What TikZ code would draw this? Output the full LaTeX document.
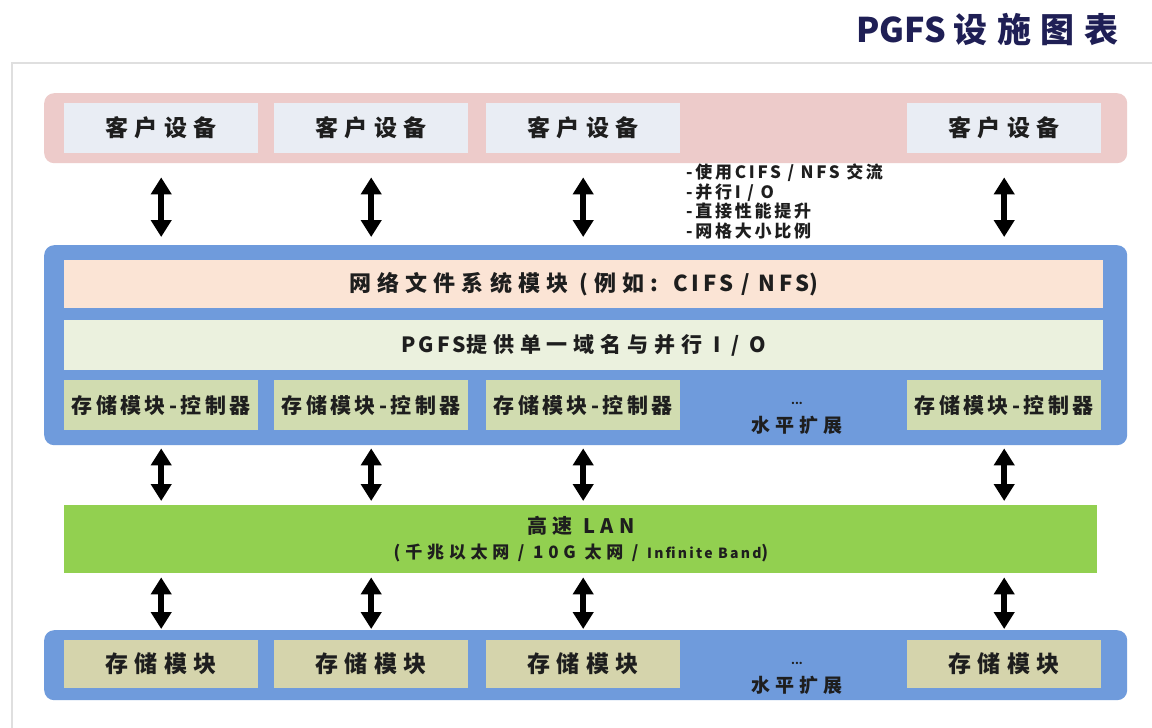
\documentclass[tikz,border=0pt]{standalone}
\usepackage{fontspec}
\setmainfont{Noto Sans CJK SC}
\newfontfamily\wide{Noto Sans CJK SC}[LetterSpace=28]
\newfontfamily\midsp{Noto Sans CJK SC}[LetterSpace=16]
\usetikzlibrary{arrows.meta}
\definecolor{pinkband}{HTML}{EDCBCA}
\definecolor{clientbox}{HTML}{E9EDF4}
\definecolor{blueband}{HTML}{6F9BDC}
\definecolor{peach}{HTML}{FBE4D5}
\definecolor{palegreen}{HTML}{EBF1DE}
\definecolor{ctlgreen}{HTML}{D1DCB0}
\definecolor{langreen}{HTML}{92D050}
\definecolor{storebox}{HTML}{D5D4AC}
\definecolor{navy}{HTML}{1F1F55}
\definecolor{ink}{HTML}{1E1E1E}
\tikzset{
  band/.style={anchor=north west, inner sep=0pt, rounded corners=10pt, draw=none},
  strip/.style={anchor=north west, inner sep=0pt, draw=none, text=ink},
  cbox/.style={anchor=north west, inner sep=0pt, minimum width=194pt, minimum height=50pt, fill=clientbox, text=ink, font=\wide\bfseries\fontsize{23}{26}\selectfont},
  ctl/.style={anchor=north west, inner sep=0pt, minimum width=194pt, minimum height=50pt, fill=ctlgreen, text=ink, font=\midsp\bfseries\fontsize{21}{22}\selectfont},
  sbox/.style={anchor=north west, inner sep=0pt, minimum width=194pt, minimum height=48pt, fill=storebox, text=ink, font=\wide\bfseries\fontsize{23}{26}\selectfont},
  dbl/.style={line width=6.5pt, black, {Triangle[width=20pt,length=17pt]}-{Triangle[width=20pt,length=17pt]}},
  scalenote/.style={text=ink, inner sep=0pt, font=\wide\bfseries\fontsize{19}{22}\selectfont},
  dots/.style={text=ink, inner sep=0pt, font=\bfseries\fontsize{11}{12}\selectfont},
}
\begin{document}
\begin{tikzpicture}[x=1pt,y=-1pt]
\useasboundingbox (0,0) rectangle (1152,728);
\fill[white] (0,0) rectangle (1152,728);
% panel
\draw[gray!25, line width=2pt, fill=white] (12,63) rectangle (1160,740);
% title
\node (title) [anchor=east, text=navy, font=\bfseries\fontsize{34}{38}\selectfont] at (1122,30) {PGFS\hspace{8pt}{\wide 设施图表}};
% clients band
\node (clients) [band, fill=pinkband, minimum width=1083pt, minimum height=70pt] at (44,93) {};
\node (c1) [cbox] at (64,103) {客户设备};
\node (c2) [cbox] at (274,103) {客户设备};
\node (c3) [cbox] at (486,103) {客户设备};
\node (c4) [cbox] at (907,103) {客户设备};
% notes
\node (notes) [anchor=north west, align=left, inner sep=0pt, text=ink, font=\midsp\bfseries\fontsize{17}{19.5}\selectfont] at (686,164)
  {-使用CIFS / NFS 交流\\-并行I / O\\-直接性能提升\\-网格大小比例};
% pgfs band
\node (pgfs) [band, fill=blueband, minimum width=1083pt, minimum height=200pt] at (44,245) {};
\node (nfs) [strip, fill=peach, minimum width=1039pt, minimum height=48pt, font=\wide\bfseries\fontsize{22}{24}\selectfont] at (64,260) {网络文件系统模块 (例如: {\midsp CIFS / NFS})};
\node (single) [strip, fill=palegreen, minimum width=1039pt, minimum height=50pt, font=\wide\bfseries\fontsize{21}{24}\selectfont] at (64,320) {{\midsp PGFS}提供单一域名与并行 I / O};
\node (k1) [ctl] at (64,380) {存储模块-控制器};
\node (k2) [ctl] at (274,380) {存储模块-控制器};
\node (k3) [ctl] at (486,380) {存储模块-控制器};
\node (k4) [ctl] at (907,380) {存储模块-控制器};
\node (dots1) [dots] at (797,403) {...};
\node (scale1) [scalenote] at (797,425) {水平扩展};
% LAN
\node (lan) [strip, fill=langreen, minimum width=1033pt, minimum height=68pt] at (64,505) {};
\node (lant) [text=ink, font=\wide\bfseries\fontsize{20}{24}\selectfont] at (581,526) {高速 LAN};
\node (lanb) [text=ink, font=\wide\bfseries\fontsize{17}{20}\selectfont] at (581,553) {(千兆以太网 / 10G 太网 / {\midsp\fontsize{14}{16}\selectfont Infinite Band})};
% storage band
\node (store) [band, fill=blueband, minimum width=1083pt, minimum height=70pt] at (44,630) {};
\node (s1) [sbox] at (64,640) {存储模块};
\node (s2) [sbox] at (274,640) {存储模块};
\node (s3) [sbox] at (486,640) {存储模块};
\node (s4) [sbox] at (907,640) {存储模块};
\node (dots2) [dots] at (797,663) {...};
\node (scale2) [scalenote] at (797,685) {水平扩展};
% arrows
\foreach \i in {1,2,3,4}{
  \draw[dbl, shorten <=24pt, shorten >=8pt] (c\i.south) -- (c\i.south |- pgfs.north);
  \draw[dbl, shorten <=18pt, shorten >=4pt] (k\i.south) -- (k\i.south |- lan.north);
  \draw[dbl, shorten <=4pt, shorten >=11pt] (s\i.north |- lan.south) -- (s\i.north);
}
\end{tikzpicture}
\end{document}
